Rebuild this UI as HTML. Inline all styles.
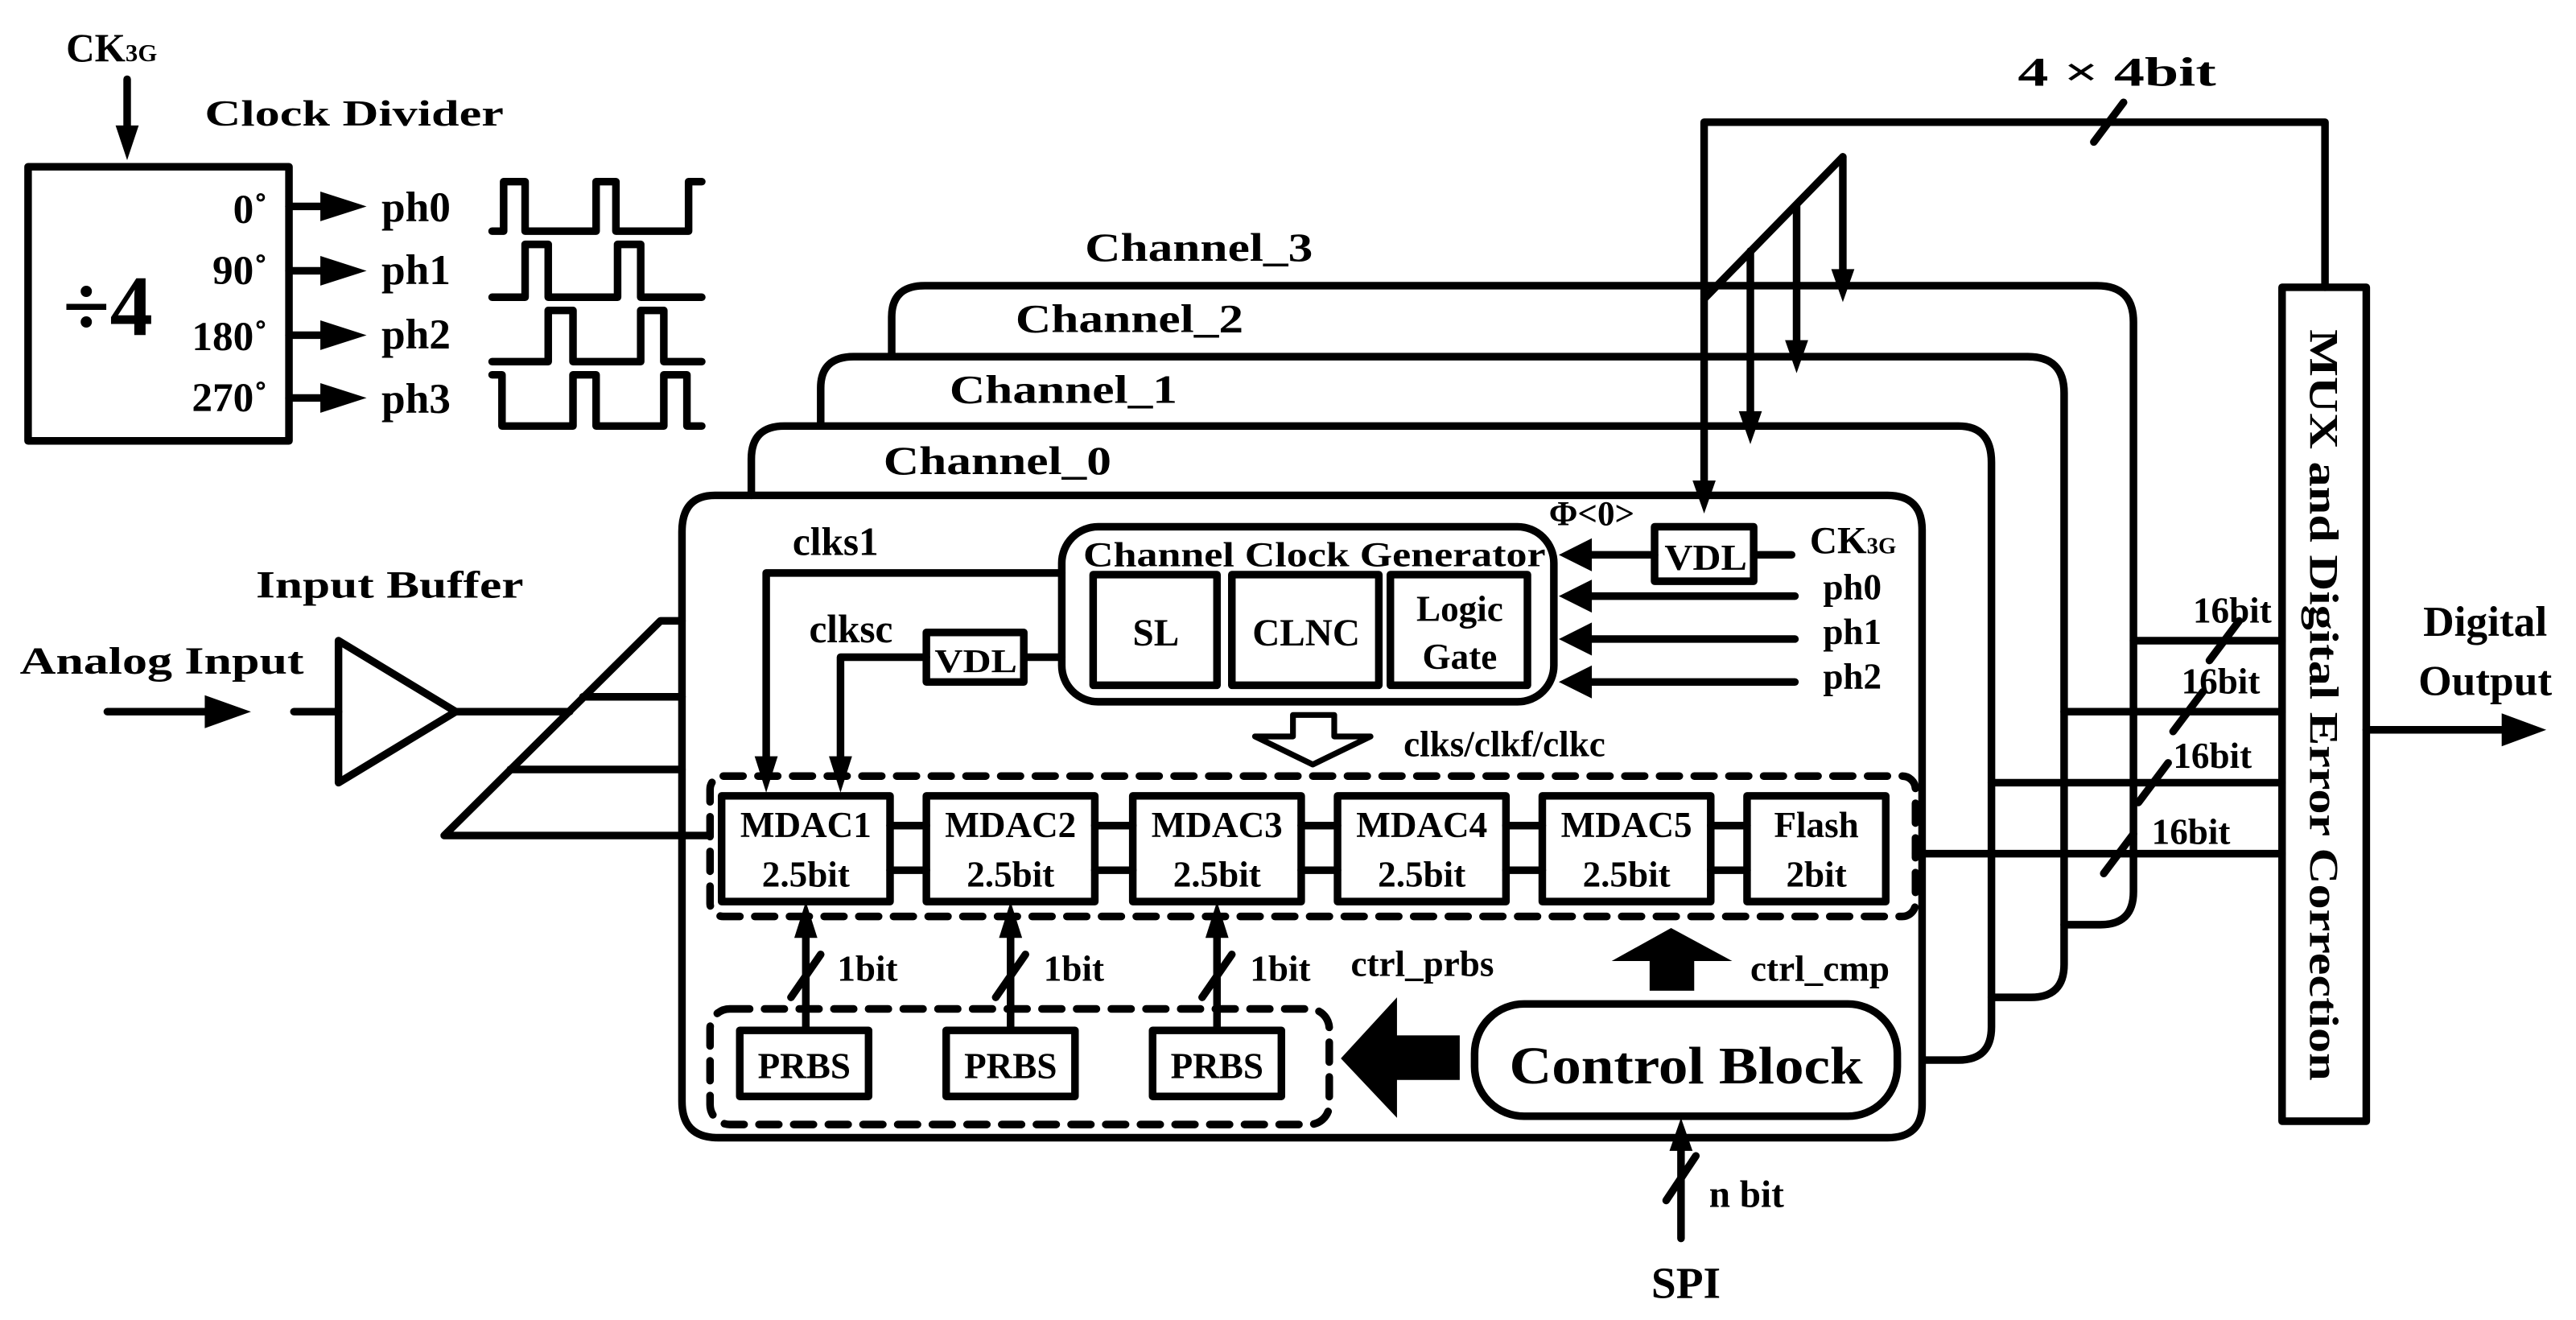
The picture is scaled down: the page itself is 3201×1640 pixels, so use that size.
<!DOCTYPE html>
<html><head><meta charset="utf-8"><style>
html,body{margin:0;padding:0;background:#fff;}
svg{display:block;}
text{font-family:"Liberation Serif",serif;font-weight:bold;fill:#000;}
</style></head><body>
<svg width="3201" height="1640" viewBox="0 0 1560 799.4" preserveAspectRatio="none" xmlns="http://www.w3.org/2000/svg">
<g fill="none" stroke="#000" stroke-width="4.6" stroke-linecap="round" stroke-linejoin="round">
<line x1="77" y1="48" x2="77" y2="80"/>
<rect x="17" y="101" width="158" height="166"/>
<line x1="175" y1="125" x2="196" y2="125"/>
<line x1="175" y1="164" x2="196" y2="164"/>
<line x1="175" y1="203" x2="196" y2="203"/>
<line x1="175" y1="241" x2="196" y2="241"/>
<polyline points="298,140 305,140 305,110 318,110 318,140 361,140 361,110 373,110 373,140 417,140 417,110 425,110"/>
<polyline points="298,180 318,180 318,148 332,148 332,180 374,180 374,148 388,148 388,180 425,180"/>
<polyline points="298,219 332,219 332,188 347,188 347,219 388,219 388,188 402,188 402,219 425,219"/>
<polyline points="298,227 304,227 304,258 347,258 347,227 361,227 361,258 402,258 402,227 416,227 416,258 425,258"/>

<path d="M540,214 V192 Q540,173 560,173 H1270 Q1292,173 1292,195 V540 Q1292,560 1272,560 H1250"/>
<path d="M497,257 V235 Q497,216 517,216 H1228 Q1250,216 1250,238 V584 Q1250,604 1230,604 H1206"/>
<path d="M455,300 V278 Q455,258 475,258 H1186 Q1206,258 1206,280 V622 Q1206,642 1186,642 H1166"/>
<path d="M433,300 H1143 Q1164,300 1164,321 V669 Q1164,689 1143,689 H435 Q413,689 413,667 V322 Q413,300 433,300 Z"/>

<rect x="1382" y="174" width="51" height="505"/>
<polyline points="1408,174 1408,74 1032,74 1032,292"/>
<line x1="1268" y1="86" x2="1286" y2="62"/>
<line x1="1032" y1="181" x2="1116" y2="95"/>
<line x1="1116" y1="95" x2="1116" y2="164"/>
<line x1="1088" y1="124" x2="1088" y2="207"/>
<line x1="1060" y1="152" x2="1060" y2="250"/>
<line x1="1433" y1="442" x2="1515" y2="442"/>
<line x1="1292" y1="388" x2="1382" y2="388"/>
<line x1="1250" y1="431" x2="1382" y2="431"/>
<line x1="1206" y1="474" x2="1382" y2="474"/>
<line x1="1160" y1="517" x2="1382" y2="517"/>
<line x1="1338" y1="400" x2="1356" y2="376"/>
<line x1="1316" y1="443" x2="1334" y2="419"/>
<line x1="1295" y1="486" x2="1313" y2="462"/>
<line x1="1274" y1="529" x2="1292" y2="505"/>

<rect x="643" y="319" width="298" height="106" rx="22"/>
<rect x="662" y="348" width="75" height="67"/>
<rect x="746" y="348" width="89" height="67"/>
<rect x="842" y="348" width="83" height="67"/>
<rect x="1002" y="319" width="60" height="33"/>
<line x1="1002" y1="336" x2="962" y2="336"/>
<line x1="1062" y1="336" x2="1085" y2="336"/>
<line x1="1087" y1="361" x2="962" y2="361"/>
<line x1="1087" y1="387" x2="962" y2="387"/>
<line x1="1087" y1="413" x2="962" y2="413"/>
<polyline points="643,347 464,347 464,460"/>
<rect x="561" y="383" width="59" height="30"/>
<line x1="620" y1="398" x2="643" y2="398"/>
<polyline points="561,398 509,398 509,460"/>
<polygon points="783,433 808,433 808,446 830,446 795,463 760,446 783,446" stroke-width="3.5"/>

<rect x="430" y="470" width="730" height="85" rx="8" stroke-dasharray="12 9"/>
<rect x="437" y="482" width="102" height="64"/>
<rect x="561" y="482" width="102" height="64"/>
<rect x="686" y="482" width="102" height="64"/>
<rect x="810" y="482" width="102" height="64"/>
<rect x="934" y="482" width="102" height="64"/>
<rect x="1058" y="482" width="84" height="64"/>
<line x1="539" y1="500" x2="561" y2="500"/><line x1="539" y1="527" x2="561" y2="527"/>
<line x1="663" y1="500" x2="686" y2="500"/><line x1="663" y1="527" x2="686" y2="527"/>
<line x1="788" y1="500" x2="810" y2="500"/><line x1="788" y1="527" x2="810" y2="527"/>
<line x1="912" y1="500" x2="934" y2="500"/><line x1="912" y1="527" x2="934" y2="527"/>
<line x1="1036" y1="500" x2="1058" y2="500"/><line x1="1036" y1="527" x2="1058" y2="527"/>

<rect x="430" y="611" width="375" height="70" rx="12" stroke-dasharray="12 9"/>
<rect x="448" y="624" width="78" height="40"/>
<rect x="573" y="624" width="78" height="40"/>
<rect x="698" y="624" width="78" height="40"/>
<line x1="488" y1="622" x2="488" y2="565"/>
<line x1="612" y1="622" x2="612" y2="565"/>
<line x1="737" y1="622" x2="737" y2="565"/>
<line x1="479" y1="604" x2="497" y2="578"/>
<line x1="603" y1="604" x2="621" y2="578"/>
<line x1="728" y1="604" x2="746" y2="578"/>

<rect x="893" y="608" width="256" height="68" rx="30"/>
<line x1="1018" y1="750" x2="1018" y2="695"/>
<line x1="1009" y1="727" x2="1027" y2="700"/>

<line x1="65" y1="431" x2="128" y2="431"/>
<line x1="178" y1="431" x2="205" y2="431"/>
<polygon points="205,388 205,474 276,431"/>
<line x1="276" y1="431" x2="345" y2="431"/>
<polyline points="430,506 269,506 400,376 413,376"/>
<line x1="353" y1="422" x2="413" y2="422"/>
<line x1="309" y1="466" x2="413" y2="466"/>
</g>

<g fill="#000" stroke="none">
<polygon points="70,76 84,76 77,97"/>
<polygon points="194,116 194,134 222,125"/>
<polygon points="194,155 194,173 222,164"/>
<polygon points="194,194 194,212 222,203"/>
<polygon points="194,232 194,250 222,241"/>
<polygon points="1109,163 1123,163 1116,183"/>
<polygon points="1081,206 1095,206 1088,226"/>
<polygon points="1053,249 1067,249 1060,269"/>
<polygon points="1025,291 1039,291 1032,311"/>
<polygon points="1515,432 1515,452 1542,442"/>
<polygon points="964,326 964,346 944,336"/>
<polygon points="964,351 964,371 944,361"/>
<polygon points="964,377 964,397 944,387"/>
<polygon points="964,403 964,423 944,413"/>
<polygon points="457,458 471,458 464,480"/>
<polygon points="502,458 516,458 509,480"/>
<polygon points="481,568 495,568 488,546"/>
<polygon points="605,568 619,568 612,546"/>
<polygon points="730,568 744,568 737,546"/>
<polygon points="1011,697 1025,697 1018,677"/>
<polygon points="124,421 124,441 152,431"/>
<polygon points="999,600 1026,600 1026,582 1049,582 1012,562 976,582 999,582"/>
<polygon points="884,627 884,654 846,654 846,677 812,641 846,604 846,627"/>
</g>

<text x="40" y="37" font-size="24">CK<tspan font-size="15">3G</tspan></text>
<text x="124" y="76" font-size="22" textLength="181" lengthAdjust="spacingAndGlyphs">Clock Divider</text>
<text x="38" y="203" font-size="52">÷4</text>
<text x="162" y="135" font-size="25" text-anchor="end">0˚</text>
<text x="162" y="172" font-size="25" text-anchor="end">90˚</text>
<text x="162" y="212" font-size="25" text-anchor="end">180˚</text>
<text x="162" y="249" font-size="25" text-anchor="end">270˚</text>
<text x="231" y="134" font-size="26">ph0</text>
<text x="231" y="172" font-size="26">ph1</text>
<text x="231" y="211" font-size="26">ph2</text>
<text x="231" y="250" font-size="26">ph3</text>
<text x="1222" y="52" font-size="25" textLength="120" lengthAdjust="spacingAndGlyphs">4 × 4bit</text>
<text x="657" y="158" font-size="24" textLength="138" lengthAdjust="spacingAndGlyphs">Channel_3</text>
<text x="615" y="201" font-size="24" textLength="138" lengthAdjust="spacingAndGlyphs">Channel_2</text>
<text x="575" y="244" font-size="24" textLength="138" lengthAdjust="spacingAndGlyphs">Channel_1</text>
<text x="535" y="287" font-size="24" textLength="138" lengthAdjust="spacingAndGlyphs">Channel_0</text>
<text x="155" y="362" font-size="23" textLength="162" lengthAdjust="spacingAndGlyphs">Input Buffer</text>
<text x="12" y="408" font-size="23" textLength="172" lengthAdjust="spacingAndGlyphs">Analog Input</text>
<text x="480" y="336" font-size="24">clks1</text>
<text x="490" y="389" font-size="24">clksc</text>
<text x="566" y="407" font-size="20" textLength="50" lengthAdjust="spacingAndGlyphs">VDL</text>
<text x="656" y="343" font-size="21" textLength="280" lengthAdjust="spacingAndGlyphs">Channel Clock Generator</text>
<text x="700" y="391" font-size="23" text-anchor="middle">SL</text>
<text x="791" y="391" font-size="23" text-anchor="middle">CLNC</text>
<text x="884" y="376" font-size="22" text-anchor="middle">Logic</text>
<text x="884" y="405" font-size="22" text-anchor="middle">Gate</text>
<text x="1008" y="345" font-size="22" textLength="50" lengthAdjust="spacingAndGlyphs">VDL</text>
<text x="938" y="318" font-size="21">Φ&lt;0&gt;</text>
<text x="1096" y="335" font-size="23">CK<tspan font-size="14">3G</tspan></text>
<text x="1104" y="363" font-size="22">ph0</text>
<text x="1104" y="390" font-size="22">ph1</text>
<text x="1104" y="417" font-size="22">ph2</text>
<text x="850" y="458" font-size="22">clks/clkf/clkc</text>
<g font-size="22" text-anchor="middle">
<text x="488" y="507">MDAC1</text><text x="488" y="537">2.5bit</text>
<text x="612" y="507">MDAC2</text><text x="612" y="537">2.5bit</text>
<text x="737" y="507">MDAC3</text><text x="737" y="537">2.5bit</text>
<text x="861" y="507">MDAC4</text><text x="861" y="537">2.5bit</text>
<text x="985" y="507">MDAC5</text><text x="985" y="537">2.5bit</text>
<text x="1100" y="507">Flash</text><text x="1100" y="537">2bit</text>
<text x="487" y="653">PRBS</text><text x="612" y="653">PRBS</text><text x="737" y="653">PRBS</text>
</g>
<text x="507" y="594" font-size="22">1bit</text>
<text x="632" y="594" font-size="22">1bit</text>
<text x="757" y="594" font-size="22">1bit</text>
<text x="818" y="591" font-size="22">ctrl_prbs</text>
<text x="1060" y="594" font-size="22">ctrl_cmp</text>
<text x="1021" y="656" font-size="32" text-anchor="middle" textLength="214" lengthAdjust="spacingAndGlyphs">Control Block</text>
<text x="1035" y="731" font-size="23">n bit</text>
<text x="1021" y="786" font-size="27" text-anchor="middle">SPI</text>
<text x="1328" y="377" font-size="22">16bit</text>
<text x="1321" y="420" font-size="22">16bit</text>
<text x="1316" y="465" font-size="22">16bit</text>
<text x="1303" y="511" font-size="22">16bit</text>
<text x="1505" y="385" font-size="26" text-anchor="middle">Digital</text>
<text x="1505" y="421" font-size="26" text-anchor="middle">Output</text>
<text transform="translate(1399,427) rotate(90)" x="0" y="0" font-size="25" text-anchor="middle" textLength="455" lengthAdjust="spacingAndGlyphs">MUX and Digital Error Correction</text>
</svg>
</body></html>
